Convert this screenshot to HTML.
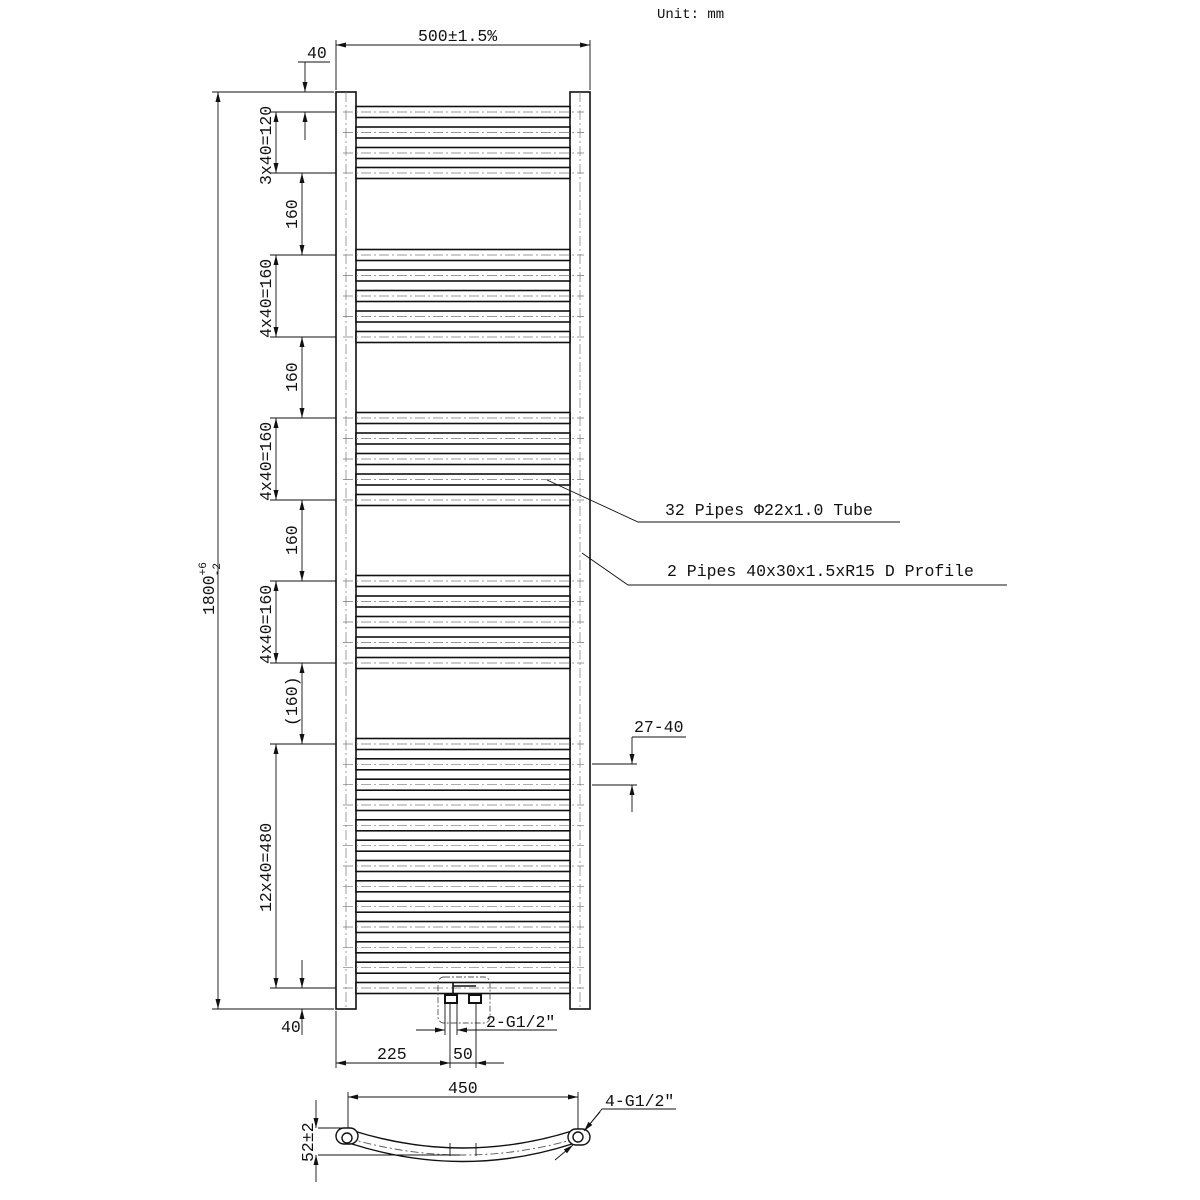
<!DOCTYPE html>
<html><head><meta charset="utf-8"><style>
html,body{margin:0;padding:0;background:#fff;}
svg{display:block;}
text{font-family:"Liberation Mono","Noto Sans CJK SC",monospace;font-size:16.5px;fill:#111;}
</style></head><body>
<svg width="1200" height="1200" viewBox="0 0 1200 1200" xmlns="http://www.w3.org/2000/svg">
<defs>
<g id="bar">
<rect x="356" y="-5.5" width="214" height="11" fill="#fff" stroke="#111" stroke-width="1.6"/>
<line x1="343" y1="0" x2="584" y2="0" stroke="#777" stroke-width="0.7" stroke-dasharray="10,3,2,3"/>
</g>
<marker id="a" viewBox="0 0 10 10" refX="10" refY="5" markerWidth="10" markerHeight="10" orient="auto-start-reverse" markerUnits="userSpaceOnUse"><path d="M0,2.5L10,5L0,7.5z" fill="#111"/></marker>
</defs>
<text x="657" y="18" style="font-size:14px">Unit: mm</text>

<rect x="336" y="92" width="20" height="917" fill="#fff" stroke="#111" stroke-width="1.6"/>
<rect x="570" y="92" width="20" height="917" fill="#fff" stroke="#111" stroke-width="1.6"/>
<line x1="346" y1="92" x2="346" y2="1009" stroke="#777" stroke-width="0.7" stroke-dasharray="10,3,2,3"/>
<line x1="580" y1="92" x2="580" y2="1009" stroke="#777" stroke-width="0.7" stroke-dasharray="10,3,2,3"/>

<g>
<use href="#bar" y="112"/><use href="#bar" y="132.5"/><use href="#bar" y="153"/><use href="#bar" y="173"/>
<use href="#bar" y="255"/><use href="#bar" y="275.5"/><use href="#bar" y="296"/><use href="#bar" y="316.5"/><use href="#bar" y="337"/>
<use href="#bar" y="418"/><use href="#bar" y="438.5"/><use href="#bar" y="459"/><use href="#bar" y="479.5"/><use href="#bar" y="500"/>
<use href="#bar" y="581"/><use href="#bar" y="601.5"/><use href="#bar" y="622"/><use href="#bar" y="642.5"/><use href="#bar" y="663"/>
<use href="#bar" y="744"/><use href="#bar" y="764.3"/><use href="#bar" y="784.7"/><use href="#bar" y="805"/><use href="#bar" y="825.3"/><use href="#bar" y="845.7"/><use href="#bar" y="866"/><use href="#bar" y="886.3"/><use href="#bar" y="906.7"/><use href="#bar" y="927"/><use href="#bar" y="947.3"/><use href="#bar" y="967.7"/><use href="#bar" y="988"/>
</g>

<g stroke="#111" stroke-width="0.9" fill="none">
<line x1="336" y1="90" x2="336" y2="40"/><line x1="590" y1="90" x2="590" y2="40"/>
<line x1="336" y1="45" x2="590" y2="45" marker-start="url(#a)" marker-end="url(#a)"/>
<line x1="212" y1="92" x2="334" y2="92"/><line x1="212" y1="1009" x2="334" y2="1009"/>
<line x1="218" y1="92" x2="218" y2="1009" marker-start="url(#a)" marker-end="url(#a)"/>
<line x1="270" y1="112" x2="336" y2="112"/><line x1="270" y1="173" x2="336" y2="173"/>
<line x1="270" y1="255" x2="336" y2="255"/><line x1="270" y1="337" x2="336" y2="337"/>
<line x1="270" y1="418" x2="336" y2="418"/><line x1="270" y1="500" x2="336" y2="500"/>
<line x1="270" y1="581" x2="336" y2="581"/><line x1="270" y1="663" x2="336" y2="663"/>
<line x1="270" y1="744" x2="336" y2="744"/><line x1="270" y1="988" x2="336" y2="988"/>
<line x1="276" y1="112" x2="276" y2="173" marker-start="url(#a)" marker-end="url(#a)"/>
<line x1="276" y1="255" x2="276" y2="337" marker-start="url(#a)" marker-end="url(#a)"/>
<line x1="276" y1="418" x2="276" y2="500" marker-start="url(#a)" marker-end="url(#a)"/>
<line x1="276" y1="581" x2="276" y2="663" marker-start="url(#a)" marker-end="url(#a)"/>
<line x1="276" y1="744" x2="276" y2="988" marker-start="url(#a)" marker-end="url(#a)"/>
<line x1="302" y1="173" x2="302" y2="255" marker-start="url(#a)" marker-end="url(#a)"/>
<line x1="302" y1="337" x2="302" y2="418" marker-start="url(#a)" marker-end="url(#a)"/>
<line x1="302" y1="500" x2="302" y2="581" marker-start="url(#a)" marker-end="url(#a)"/>
<line x1="302" y1="663" x2="302" y2="744" marker-start="url(#a)" marker-end="url(#a)"/>
<line x1="305" y1="62" x2="305" y2="92" marker-end="url(#a)"/>
<line x1="305" y1="140" x2="305" y2="112" marker-end="url(#a)"/>
<line x1="298" y1="62" x2="330" y2="62"/>
<line x1="302" y1="960" x2="302" y2="988" marker-end="url(#a)"/>
<line x1="302" y1="1035" x2="302" y2="1009" marker-end="url(#a)"/>
<polyline points="547,480 638,522 900,522"/>
<polyline points="582,553 628,585 1007,585"/>
<line x1="592" y1="764" x2="637" y2="764"/><line x1="592" y1="785" x2="637" y2="785"/>
<line x1="632" y1="737" x2="632" y2="764" marker-end="url(#a)"/>
<line x1="632" y1="812" x2="632" y2="785" marker-end="url(#a)"/>
<line x1="632" y1="737" x2="686" y2="737"/>
<rect x="438" y="977" width="52" height="46" rx="6" stroke="#555" stroke-dasharray="6,2,2,2"/>
<line x1="453" y1="982" x2="453" y2="995" stroke-width="1.6"/>
<line x1="453" y1="986" x2="476" y2="986" stroke-width="1.6"/>
<rect x="445" y="995" width="12" height="8" stroke-width="2"/>
<rect x="469" y="995" width="12" height="8" stroke-width="2"/>
<line x1="445" y1="1003" x2="445" y2="1035"/><line x1="457" y1="1003" x2="457" y2="1035"/>
<line x1="476" y1="1003" x2="476" y2="1068"/><line x1="450" y1="1003" x2="450" y2="1068"/>
<line x1="416" y1="1030" x2="445" y2="1030" marker-end="url(#a)"/>
<line x1="557" y1="1030" x2="457" y2="1030"/>
<line x1="476" y1="1030" x2="457" y2="1030" marker-end="url(#a)"/>
<line x1="336" y1="1011" x2="336" y2="1068"/>
<line x1="336" y1="1063" x2="450" y2="1063" marker-start="url(#a)" marker-end="url(#a)"/>
<line x1="450" y1="1063" x2="504" y2="1063"/>
<line x1="504" y1="1063" x2="476" y2="1063" marker-end="url(#a)"/>
<line x1="348" y1="1092" x2="348" y2="1135"/><line x1="578" y1="1092" x2="578" y2="1135"/>
<line x1="348" y1="1097" x2="578" y2="1097" marker-start="url(#a)" marker-end="url(#a)"/>
<path d="M354,1131 Q463,1165 572,1131" stroke-width="1.4"/>
<path d="M352,1144 Q463,1179 572,1144" stroke-width="1.4"/>
<path d="M348,1138 Q463,1172 578,1138" stroke="#555" stroke-dasharray="8,3,2,3"/>
<line x1="450" y1="1143" x2="450" y2="1156"/><line x1="476" y1="1143" x2="476" y2="1156"/>
<rect x="336" y="1128" width="22" height="16" rx="8" fill="#fff" stroke-width="1.4"/>
<circle cx="347" cy="1138" r="5" stroke-width="1.4"/>
<rect x="568" y="1129" width="22" height="16" rx="8" fill="#fff" stroke-width="1.4"/>
<circle cx="578" cy="1137" r="5" stroke-width="1.4"/>
<polyline points="585,1130 602,1109 676,1109"/>
<line x1="600" y1="1112" x2="584" y2="1131" marker-end="url(#a)"/>
<line x1="555" y1="1160" x2="573" y2="1145" marker-end="url(#a)"/>
<line x1="318" y1="1128" x2="344" y2="1128"/><line x1="318" y1="1155" x2="460" y2="1155"/>
<line x1="316" y1="1100" x2="316" y2="1128" marker-end="url(#a)"/>
<line x1="316" y1="1182" x2="316" y2="1155" marker-end="url(#a)"/>
</g>

<text x="418" y="41">500±1.5%</text>
<text x="307" y="58">40</text>
<text x="281" y="1032">40</text>
<text transform="translate(214,615) rotate(-90)">1800<tspan dy="-8" style="font-size:11px">+6</tspan><tspan dx="-14" dy="14" style="font-size:11px">-2</tspan></text>
<text transform="translate(271,185) rotate(-90)">3x40=120</text>
<text transform="translate(271,338) rotate(-90)">4x40=160</text>
<text transform="translate(271,501) rotate(-90)">4x40=160</text>
<text transform="translate(271,664) rotate(-90)">4x40=160</text>
<text transform="translate(271,912) rotate(-90)">12x40=480</text>
<text transform="translate(297,229) rotate(-90)">160</text>
<text transform="translate(297,392) rotate(-90)">160</text>
<text transform="translate(297,555) rotate(-90)">160</text>
<text transform="translate(297,726) rotate(-90)">(160)</text>
<text x="665" y="515">32 Pipes Φ22x1.0 Tube</text>
<text x="667" y="576">2 Pipes 40x30x1.5xR15 D Profile</text>
<text x="634" y="732">27-40</text>
<text x="486" y="1027">2-G1/2″</text>
<text x="377" y="1059">225</text>
<text x="453" y="1059">50</text>
<text x="448" y="1093">450</text>
<text x="605" y="1106">4-G1/2″</text>
<text transform="translate(313,1162) rotate(-90)">52±2</text>
</svg>
</body></html>
